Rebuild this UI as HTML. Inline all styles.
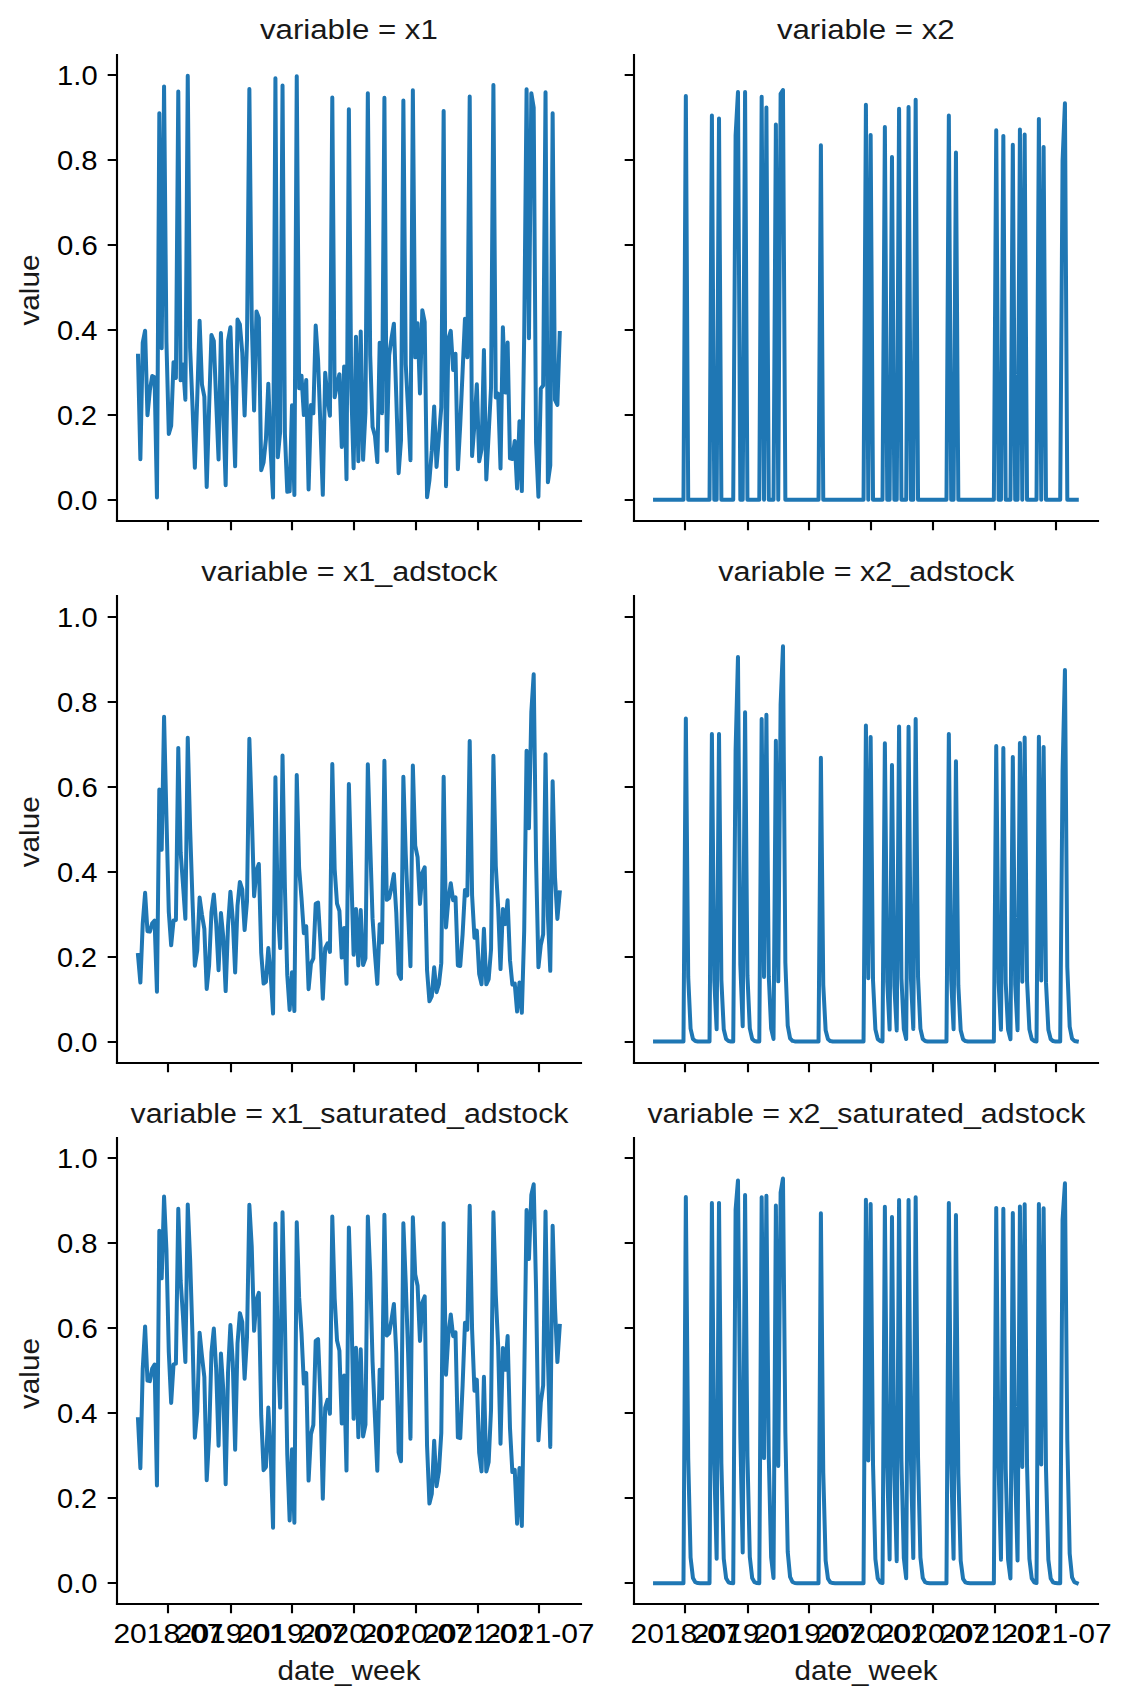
<!DOCTYPE html><html><head><meta charset="utf-8"><style>html,body{margin:0;padding:0;background:#fff;}svg{display:block;}text{font-family:"Liberation Sans",sans-serif;}</style></head><body>
<svg width="1131" height="1705" viewBox="0 0 1131 1705">
<rect width="1131" height="1705" fill="#fff"/>
<path d="M117 521L117 55" stroke="#000" stroke-width="2.13" stroke-linecap="square" fill="none"/>
<path d="M117 521L581 521" stroke="#000" stroke-width="2.13" stroke-linecap="square" fill="none"/>
<path d="M168 521v9.33M231 521v9.33M292 521v9.33M354 521v9.33M416 521v9.33M478 521v9.33M539 521v9.33M117 500h-9.33M117 415h-9.33M117 330h-9.33M117 245h-9.33M117 160h-9.33M117 75h-9.33" stroke="#000" stroke-width="2.13" fill="none"/>
<path d="M138 355.71 140.37 459.2 142.73 342.6 145.1 330.7 147.47 415.2 149.84 390.24 152.21 375.99 154.58 377.17 156.95 497.44 159.32 113.15 161.69 348.24 164.06 86.38 166.43 341.62 168.8 433.98 171.17 425.73 173.54 362.15 175.91 378.02 178.28 91.47 180.65 380.37 183.01 364.58 185.38 399.67 187.75 75.75 190.12 347.82 192.49 405.66 194.86 467.7 197.23 398.23 199.6 320.76 201.97 384.53 204.34 396.66 206.71 486.97 209.08 408.18 211.45 335.02 213.82 341.02 216.19 401.55 218.56 459.39 220.93 333.1 223.29 411.69 225.66 485.22 228.03 340.81 230.4 327.23 232.77 395.47 235.14 466.31 237.51 319.51 239.88 324.47 242.25 352.52 244.62 415.48 246.99 340.37 249.36 88.93 251.73 319.85 254.1 410.43 256.47 311.48 258.84 317.92 261.21 470.22 263.57 462.36 265.94 439 268.31 383.64 270.68 450.91 273.05 497.58 275.42 78.3 277.79 457.29 280.16 431.57 282.53 85.53 284.9 433.71 287.27 491.86 289.64 491.39 292.01 405.34 294.38 495.02 296.75 76.18 299.12 388.32 301.49 375.74 303.85 415.05 306.22 379.92 308.59 489.42 310.96 404.97 313.33 413.33 315.7 325.58 318.07 359.98 320.44 426.28 322.81 494.86 325.18 372.8 327.55 398.48 329.92 415.78 332.29 97.42 334.66 397.33 337.03 384.72 339.4 374.18 341.76 446.95 344.13 366.5 346.5 479.3 348.87 109.32 351.24 388.6 353.61 468.27 355.98 336.66 358.35 461.32 360.72 331.4 363.09 459.83 365.46 412.07 367.83 93.17 370.2 355.22 372.57 426.86 374.94 435.66 377.31 462.1 379.68 342.69 382.04 413.17 384.41 97.85 386.78 450.69 389.15 355.33 391.52 338.31 393.89 323.69 396.26 396.06 398.63 473.23 401 440.32 403.37 100.4 405.74 364.34 408.11 409.77 410.48 460.14 412.85 90.2 415.22 357.37 417.59 323.23 419.96 393.38 422.32 310.13 424.69 321.98 427.06 497.22 429.43 480.12 431.8 450.66 434.17 406.45 436.54 466.89 438.91 437.24 441.28 407.25 443.65 111.02 446.02 486.13 448.39 338.76 450.76 330.88 453.13 369.97 455.5 353.79 457.87 469.23 460.24 424.52 462.6 371.36 464.97 318.71 467.34 357.32 469.71 96.57 472.08 455.98 474.45 424.39 476.82 384.27 479.19 461.32 481.56 449.24 483.93 350.11 486.3 479.5 488.67 433.73 491.04 387.72 493.41 85.1 495.78 397.42 498.15 393.6 500.52 468.4 502.88 327.27 505.25 392.53 507.62 342.6 509.99 458.4 512.36 458.94 514.73 440.97 517.1 488.46 519.47 421.34 521.84 491.12 524.21 334.05 526.58 89.35 528.95 338.3 531.32 93.17 533.69 107.62 536.06 442.45 538.43 496.75 540.79 388.65 543.16 385.5 545.53 92.32 547.9 482.22 550.27 465.39 552.64 113.15 555.01 399.86 557.38 404.9 559.75 332.98" stroke="#1f77b4" stroke-width="4" stroke-linejoin="round" stroke-linecap="square" fill="none"/>
<text transform="translate(259.94 38.55) scale(1.1173 1)" font-size="27.960" fill="#181818">variable = x1</text>
<text transform="translate(57.01 509.82) scale(1.0299 1)" font-size="28.343">0.0</text>
<text transform="translate(56.9 424.83) scale(1.0146 1)" font-size="28.343">0.2</text>
<text transform="translate(57.01 339.85) scale(1.0295 1)" font-size="28.343">0.4</text>
<text transform="translate(57 254.87) scale(1.0362 1)" font-size="28.343">0.6</text>
<text transform="translate(56.88 169.89) scale(1.0319 1)" font-size="28.343">0.8</text>
<text transform="translate(57.1 84.9) scale(1.0280 1)" font-size="28.343">1.0</text>
<text transform="translate(39.2 325.54) rotate(-90) scale(1.0620 1)" font-size="27.960" fill="#181818">value</text>
<path d="M634 521L634 55" stroke="#000" stroke-width="2.13" stroke-linecap="square" fill="none"/>
<path d="M634 521L1098 521" stroke="#000" stroke-width="2.13" stroke-linecap="square" fill="none"/>
<path d="M685 521v9.33M748 521v9.33M809 521v9.33M871 521v9.33M933 521v9.33M995 521v9.33M1056 521v9.33M634 500h-9.33M634 415h-9.33M634 330h-9.33M634 245h-9.33M634 160h-9.33M634 75h-9.33" stroke="#000" stroke-width="2.13" fill="none"/>
<path d="M655.04 499.82 657.41 499.82 659.77 499.82 662.14 499.82 664.51 499.82 666.88 499.82 669.25 499.82 671.62 499.82 673.99 499.82 676.36 499.82 678.73 499.82 681.1 499.82 683.47 499.82 685.84 95.94 688.21 499.82 690.58 499.82 692.95 499.82 695.32 499.82 697.69 499.82 700.05 499.82 702.42 499.82 704.79 499.82 707.16 499.82 709.53 499.82 711.9 115.48 714.27 499.82 716.64 499.82 719.01 118.46 721.38 499.82 723.75 499.82 726.12 499.82 728.49 499.82 730.86 499.82 733.23 499.82 735.6 135.45 737.97 92.11 740.33 499.82 742.7 499.82 745.07 92.11 747.44 499.82 749.81 499.82 752.18 499.82 754.55 499.82 756.92 499.82 759.29 499.82 761.66 96.79 764.03 499.82 766.4 107.41 768.77 499.82 771.14 499.82 773.51 499.82 775.88 124.41 778.25 499.82 780.61 93.81 782.98 89.99 785.35 499.82 787.72 499.82 790.09 499.82 792.46 499.82 794.83 499.82 797.2 499.82 799.57 499.82 801.94 499.82 804.31 499.82 806.68 499.82 809.05 499.82 811.42 499.82 813.79 499.82 816.16 499.82 818.53 499.82 820.89 145.23 823.26 499.82 825.63 499.82 828 499.82 830.37 499.82 832.74 499.82 835.11 499.82 837.48 499.82 839.85 499.82 842.22 499.82 844.59 499.82 846.96 499.82 849.33 499.82 851.7 499.82 854.07 499.82 856.44 499.82 858.8 499.82 861.17 499.82 863.54 499.82 865.91 104.86 868.28 499.82 870.65 135.03 873.02 499.82 875.39 499.82 877.76 499.82 880.13 499.82 882.5 499.82 884.87 126.96 887.24 499.82 889.61 499.82 891.98 157.12 894.35 499.82 896.72 499.82 899.08 108.68 901.45 499.82 903.82 499.82 906.19 499.82 908.56 106.98 910.93 499.82 913.3 499.82 915.67 99.76 918.04 499.82 920.41 499.82 922.78 499.82 925.15 499.82 927.52 499.82 929.89 499.82 932.26 499.82 934.63 499.82 937 499.82 939.36 499.82 941.73 499.82 944.1 499.82 946.47 499.82 948.84 115.48 951.21 499.82 953.58 499.82 955.95 152.45 958.32 499.82 960.69 499.82 963.06 499.82 965.43 499.82 967.8 499.82 970.17 499.82 972.54 499.82 974.91 499.82 977.28 499.82 979.64 499.82 982.01 499.82 984.38 499.82 986.75 499.82 989.12 499.82 991.49 499.82 993.86 499.82 996.23 130.35 998.6 499.82 1000.97 499.82 1003.34 135.88 1005.71 499.82 1008.08 499.82 1010.45 499.82 1012.82 144.8 1015.19 499.82 1017.56 499.82 1019.92 129.5 1022.29 499.82 1024.66 134.6 1027.03 499.82 1029.4 499.82 1031.77 499.82 1034.14 499.82 1036.51 499.82 1038.88 118.88 1041.25 499.82 1043.62 146.93 1045.99 499.82 1048.36 499.82 1050.73 499.82 1053.1 499.82 1055.47 499.82 1057.83 499.82 1060.2 499.82 1062.57 160.95 1064.94 103.16 1067.31 499.82 1069.68 499.82 1072.05 499.82 1074.42 499.82 1076.79 499.82" stroke="#1f77b4" stroke-width="4" stroke-linejoin="round" stroke-linecap="square" fill="none"/>
<text transform="translate(776.91 38.55) scale(1.1162 1)" font-size="27.960" fill="#181818">variable = x2</text>
<path d="M117 1063L117 596" stroke="#000" stroke-width="2.13" stroke-linecap="square" fill="none"/>
<path d="M117 1063L581 1063" stroke="#000" stroke-width="2.13" stroke-linecap="square" fill="none"/>
<path d="M168 1063v9.33M231 1063v9.33M292 1063v9.33M354 1063v9.33M416 1063v9.33M478 1063v9.33M539 1063v9.33M117 1042h-9.33M117 957h-9.33M117 872h-9.33M117 787h-9.33M117 702h-9.33M117 617h-9.33" stroke="#000" stroke-width="2.13" fill="none"/>
<path d="M138 955.02 140.37 982.55 142.73 923.55 145.1 892.81 147.47 931.25 149.84 931.63 152.21 923.23 154.58 920.58 156.95 991.79 159.32 789.5 161.69 849.78 164.06 716.67 166.43 816.65 168.8 912.1 171.17 945.33 173.54 920.45 175.91 919.98 178.28 747.9 180.65 852.43 183.01 884.86 185.38 918.8 187.75 737.87 190.12 828.84 192.49 899.98 194.86 965.68 197.23 950.37 199.6 897.61 201.97 914.81 204.34 928.95 206.71 988.96 209.08 965.55 211.45 912.24 213.82 894.49 216.19 923.76 218.56 970.23 220.93 912.96 223.29 937.24 225.66 991.06 228.03 925.92 230.4 891.74 232.77 919.03 235.14 972.46 237.51 905.67 239.88 881.98 242.25 889.31 244.62 930.02 246.99 901.26 249.36 738.8 251.73 812.43 254.1 896.24 256.47 870.42 258.84 863.95 261.21 952.79 263.57 983.59 265.94 981.91 268.31 948.09 270.68 974.87 273.05 1013.56 275.42 777.35 277.79 910.4 280.16 948.12 282.53 755.45 284.9 887.44 287.27 975.17 289.64 1009.95 292.01 972.18 294.38 1011.09 296.75 775.02 299.12 868.02 301.49 897.8 303.85 933.18 306.22 926.22 308.59 989.17 310.96 963.68 313.33 958.47 315.7 903.87 318.07 902.56 320.44 941.85 322.81 998.72 325.18 948.2 327.55 943.37 329.92 951.85 332.29 764.1 334.66 869.1 337.03 903.52 339.4 910.93 341.76 957.56 344.13 927.95 346.5 983.83 348.87 784.04 351.24 871.92 353.61 954.8 355.98 908.93 358.35 965.43 360.72 910 363.09 964.97 365.46 958.24 367.83 764.23 370.2 843.84 372.57 918.67 374.94 953.94 377.31 983.87 379.68 924.2 382.04 942.6 384.41 760.66 386.78 899.85 389.15 898.17 391.52 887.25 393.89 874.11 396.26 912.29 398.63 973.94 401 978.81 403.37 776.8 405.74 854.33 408.11 912.65 410.48 966.23 412.85 765.55 415.22 845.66 417.59 857.18 419.96 903.91 422.32 872.76 424.69 867.31 427.06 970.33 429.43 1001.24 431.8 996.07 434.17 967.35 436.54 992.17 438.91 984.26 441.28 963.13 443.65 776.81 446.02 927.43 448.39 899.21 450.76 883.2 453.13 900.28 455.5 897.38 457.87 965.53 460.24 965.97 462.6 934.34 464.97 889.93 467.34 895.4 469.71 741.05 472.08 895.07 474.45 937.73 476.82 930.65 479.19 974.1 481.56 984.25 483.93 928.81 486.3 984.31 488.67 979.13 491.04 949.29 493.41 755.68 495.78 865.76 498.15 907.47 500.52 969.07 502.88 909.01 505.25 924.13 507.62 900.21 509.99 960.18 512.36 984.62 514.73 983.48 517.1 1011.54 519.47 982.43 521.84 1012.74 524.21 930.54 526.58 750.76 528.95 828.27 531.32 712.1 533.69 674.32 536.06 860.21 538.43 967.2 540.79 945.07 543.16 934.38 545.53 754.18 547.9 916.1 550.27 970.86 552.64 781.27 555.01 877.44 557.38 918.91 559.75 892.37" stroke="#1f77b4" stroke-width="4" stroke-linejoin="round" stroke-linecap="square" fill="none"/>
<text transform="translate(201.31 580.97) scale(1.0920 1)" font-size="27.960" fill="#181818">variable = x1_adstock</text>
<text transform="translate(57.01 1051.54) scale(1.0299 1)" font-size="28.343">0.0</text>
<text transform="translate(56.9 966.56) scale(1.0146 1)" font-size="28.343">0.2</text>
<text transform="translate(57.01 881.57) scale(1.0295 1)" font-size="28.343">0.4</text>
<text transform="translate(57 796.59) scale(1.0362 1)" font-size="28.343">0.6</text>
<text transform="translate(56.88 711.61) scale(1.0319 1)" font-size="28.343">0.8</text>
<text transform="translate(57.1 626.63) scale(1.0280 1)" font-size="28.343">1.0</text>
<text transform="translate(39.2 867.26) rotate(-90) scale(1.0620 1)" font-size="27.960" fill="#181818">value</text>
<path d="M634 1063L634 596" stroke="#000" stroke-width="2.13" stroke-linecap="square" fill="none"/>
<path d="M634 1063L1098 1063" stroke="#000" stroke-width="2.13" stroke-linecap="square" fill="none"/>
<path d="M685 1063v9.33M748 1063v9.33M809 1063v9.33M871 1063v9.33M933 1063v9.33M995 1063v9.33M1056 1063v9.33M634 1042h-9.33M634 957h-9.33M634 872h-9.33M634 787h-9.33M634 702h-9.33M634 617h-9.33" stroke="#000" stroke-width="2.13" fill="none"/>
<path d="M655.04 1041.54 657.41 1041.54 659.77 1041.54 662.14 1041.54 664.51 1041.54 666.88 1041.54 669.25 1041.54 671.62 1041.54 673.99 1041.54 676.36 1041.54 678.73 1041.54 681.1 1041.54 683.47 1041.54 685.84 718.44 688.21 976.92 690.58 1028.62 692.95 1038.96 695.32 1041.02 697.69 1041.44 700.05 1041.52 702.42 1041.54 704.79 1041.54 707.16 1041.54 709.53 1041.54 711.9 734.07 714.27 980.05 716.64 1029.24 719.01 733.99 721.38 980.03 723.75 1029.24 726.12 1039.08 728.49 1041.05 730.86 1041.44 733.23 1041.52 735.6 750.04 737.97 657.08 740.33 964.65 742.7 1026.16 745.07 712.3 747.44 975.69 749.81 1028.37 752.18 1038.91 754.55 1041.01 756.92 1041.44 759.29 1041.52 761.66 719.11 764.03 977.06 766.4 714.72 768.77 976.18 771.14 1028.47 773.51 1038.93 775.88 740.69 778.25 981.37 780.61 704.7 782.98 646.31 785.35 962.49 787.72 1025.73 790.09 1038.38 792.46 1040.91 794.83 1041.41 797.2 1041.52 799.57 1041.54 801.94 1041.54 804.31 1041.54 806.68 1041.54 809.05 1041.54 811.42 1041.54 813.79 1041.54 816.16 1041.54 818.53 1041.54 820.89 757.87 823.26 984.81 825.63 1030.19 828 1039.27 830.37 1041.09 832.74 1041.45 835.11 1041.52 837.48 1041.54 839.85 1041.54 842.22 1041.54 844.59 1041.54 846.96 1041.54 849.33 1041.54 851.7 1041.54 854.07 1041.54 856.44 1041.54 858.8 1041.54 861.17 1041.54 863.54 1041.54 865.91 725.57 868.28 978.35 870.65 737.07 873.02 980.65 875.39 1029.36 877.76 1039.1 880.13 1041.05 882.5 1041.44 884.87 743.23 887.24 981.88 889.61 1029.61 891.98 765 894.35 986.23 896.72 1030.48 899.08 726.42 901.45 978.52 903.82 1028.94 906.19 1039.02 908.56 726.77 910.93 978.59 913.3 1028.95 915.67 718.98 918.04 977.03 920.41 1028.64 922.78 1038.96 925.15 1041.02 927.52 1041.44 929.89 1041.52 932.26 1041.54 934.63 1041.54 937 1041.54 939.36 1041.54 941.73 1041.54 944.1 1041.54 946.47 1041.54 948.84 734.07 951.21 980.05 953.58 1029.24 955.95 761.19 958.32 985.47 960.69 1030.33 963.06 1039.3 965.43 1041.09 967.8 1041.45 970.17 1041.52 972.54 1041.54 974.91 1041.54 977.28 1041.54 979.64 1041.54 982.01 1041.54 984.38 1041.54 986.75 1041.54 989.12 1041.54 991.49 1041.54 993.86 1041.54 996.23 745.97 998.6 982.43 1000.97 1029.72 1003.34 748.02 1005.71 982.84 1008.08 1029.8 1010.45 1039.19 1012.82 757.06 1015.19 984.64 1017.56 1030.16 1019.92 743.01 1022.29 981.84 1024.66 737.43 1027.03 980.72 1029.4 1029.38 1031.77 1039.11 1034.14 1041.05 1036.51 1041.44 1038.88 736.77 1041.25 980.59 1043.62 747.04 1045.99 982.64 1048.36 1029.76 1050.73 1039.18 1053.1 1041.07 1055.47 1041.45 1057.83 1041.52 1060.2 1041.54 1062.57 770.44 1064.94 669.99 1067.31 967.23 1069.68 1026.68 1072.05 1038.57 1074.42 1040.95 1076.79 1041.42" stroke="#1f77b4" stroke-width="4" stroke-linejoin="round" stroke-linecap="square" fill="none"/>
<text transform="translate(718.29 580.97) scale(1.0920 1)" font-size="27.960" fill="#181818">variable = x2_adstock</text>
<path d="M117 1604L117 1138" stroke="#000" stroke-width="2.13" stroke-linecap="square" fill="none"/>
<path d="M117 1604L581 1604" stroke="#000" stroke-width="2.13" stroke-linecap="square" fill="none"/>
<path d="M168 1604v9.33M231 1604v9.33M292 1604v9.33M354 1604v9.33M416 1604v9.33M478 1604v9.33M539 1604v9.33M117 1583h-9.33M117 1498h-9.33M117 1413h-9.33M117 1328h-9.33M117 1243h-9.33M117 1158h-9.33" stroke="#000" stroke-width="2.13" fill="none"/>
<path d="M138 1419.19 140.37 1468.22 142.73 1368.88 145.1 1326.44 147.47 1380.56 149.84 1381.16 152.21 1368.41 154.58 1364.49 156.95 1485.54 159.32 1230.83 161.69 1278.36 164.06 1196.48 166.43 1249.66 168.8 1352.27 171.17 1403 173.54 1364.3 175.91 1363.61 178.28 1208.74 180.65 1280.96 183.01 1316.58 185.38 1361.88 187.75 1204.44 190.12 1259.45 192.49 1335.74 194.86 1437.68 197.23 1411.34 199.6 1332.63 201.97 1356.12 204.34 1377.04 206.71 1480.19 209.08 1437.45 211.45 1352.47 213.82 1328.59 216.19 1369.2 218.56 1445.76 220.93 1353.5 223.29 1389.95 225.66 1484.17 228.03 1372.44 230.4 1325.09 232.77 1362.22 235.14 1449.78 237.51 1343.37 239.88 1313.12 242.25 1322.05 244.62 1378.68 246.99 1337.44 249.36 1204.82 251.73 1246.48 254.1 1330.85 256.47 1299.82 258.84 1292.78 261.21 1415.42 263.57 1470.15 265.94 1467.03 268.31 1407.56 270.68 1454.14 273.05 1527.63 275.42 1223.59 277.79 1349.9 280.16 1407.61 282.53 1212.21 284.9 1319.73 287.27 1454.67 289.64 1520.54 292.01 1449.27 294.38 1522.77 296.75 1222.29 299.12 1297.17 301.49 1332.87 303.85 1383.56 306.22 1372.88 308.59 1480.59 310.96 1434.16 313.33 1425.11 315.7 1340.93 318.07 1339.17 320.44 1397.33 322.81 1498.76 325.18 1407.73 327.55 1399.8 329.92 1413.83 332.29 1216.47 334.66 1298.36 337.03 1340.46 339.4 1350.64 341.76 1423.54 344.13 1375.52 346.5 1470.6 348.87 1227.49 351.24 1301.5 353.61 1418.81 355.98 1347.85 358.35 1437.24 360.72 1349.34 363.09 1436.42 365.46 1424.7 367.83 1216.53 370.2 1272.72 372.57 1361.69 374.94 1417.36 377.31 1470.68 379.68 1369.86 382.04 1398.55 384.41 1214.74 386.78 1335.56 389.15 1333.36 391.52 1319.5 393.89 1303.96 396.26 1352.55 398.63 1452.45 401 1461.33 403.37 1223.28 405.74 1282.84 408.11 1353.05 410.48 1438.65 412.85 1217.21 415.22 1274.42 417.59 1285.72 419.96 1340.99 422.32 1302.44 424.69 1296.4 427.06 1445.94 429.43 1503.62 431.8 1493.69 434.17 1440.64 436.54 1486.26 438.91 1471.4 441.28 1433.19 443.65 1223.29 446.02 1374.73 448.39 1334.72 450.76 1314.58 453.13 1336.14 455.5 1332.32 457.87 1437.42 460.24 1438.19 462.6 1385.38 464.97 1322.82 467.34 1329.76 469.71 1205.76 472.08 1329.34 474.45 1390.72 476.82 1379.65 479.19 1452.74 481.56 1471.38 483.93 1376.82 486.3 1471.49 488.67 1461.91 491.04 1409.55 493.41 1212.32 495.78 1294.72 498.15 1345.83 500.52 1443.69 502.88 1347.96 505.25 1369.74 507.62 1336.03 509.99 1428.06 512.36 1472.07 514.73 1469.95 517.1 1523.65 519.47 1468.01 521.84 1526.02 524.21 1379.48 526.58 1210.03 528.95 1258.97 531.32 1194.94 533.69 1184.32 536.06 1288.85 538.43 1440.37 540.79 1402.57 543.16 1385.45 545.53 1211.61 547.9 1357.97 550.27 1446.89 552.64 1225.85 555.01 1307.78 557.38 1362.05 559.75 1325.88" stroke="#1f77b4" stroke-width="4" stroke-linejoin="round" stroke-linecap="square" fill="none"/>
<text transform="translate(130.44 1122.7) scale(1.0864 1)" font-size="27.960" fill="#181818">variable = x1_saturated_adstock</text>
<text transform="translate(57.01 1593.26) scale(1.0299 1)" font-size="28.343">0.0</text>
<text transform="translate(56.9 1508.28) scale(1.0146 1)" font-size="28.343">0.2</text>
<text transform="translate(57.01 1423.3) scale(1.0295 1)" font-size="28.343">0.4</text>
<text transform="translate(57 1338.32) scale(1.0362 1)" font-size="28.343">0.6</text>
<text transform="translate(56.88 1253.33) scale(1.0319 1)" font-size="28.343">0.8</text>
<text transform="translate(57.1 1168.35) scale(1.0280 1)" font-size="28.343">1.0</text>
<text transform="translate(113.4 1643.13) scale(1.0595 1)" font-size="28.343">2018-07</text>
<text transform="translate(175.75 1643.13) scale(1.0573 1)" font-size="28.343">2019-01</text>
<text transform="translate(237.01 1643.13) scale(1.0595 1)" font-size="28.343">2019-07</text>
<text transform="translate(299.24 1643.13) scale(1.0573 1)" font-size="28.343">2020-01</text>
<text transform="translate(360.84 1643.13) scale(1.0595 1)" font-size="28.343">2020-07</text>
<text transform="translate(423.12 1643.13) scale(1.0573 1)" font-size="28.343">2021-01</text>
<text transform="translate(484.38 1643.13) scale(1.0595 1)" font-size="28.343">2021-07</text>
<text transform="translate(277.47 1679.8) scale(1.0587 1)" font-size="27.960" fill="#181818">date_week</text>
<text transform="translate(39.2 1408.99) rotate(-90) scale(1.0620 1)" font-size="27.960" fill="#181818">value</text>
<path d="M634 1604L634 1138" stroke="#000" stroke-width="2.13" stroke-linecap="square" fill="none"/>
<path d="M634 1604L1098 1604" stroke="#000" stroke-width="2.13" stroke-linecap="square" fill="none"/>
<path d="M685 1604v9.33M748 1604v9.33M809 1604v9.33M871 1604v9.33M933 1604v9.33M995 1604v9.33M1056 1604v9.33M634 1583h-9.33M634 1498h-9.33M634 1413h-9.33M634 1328h-9.33M634 1243h-9.33M634 1158h-9.33" stroke="#000" stroke-width="2.13" fill="none"/>
<path d="M655.04 1583.26 657.41 1583.26 659.77 1583.26 662.14 1583.26 664.51 1583.26 666.88 1583.26 669.25 1583.26 671.62 1583.26 673.99 1583.26 676.36 1583.26 678.73 1583.26 681.1 1583.26 683.47 1583.26 685.84 1197.09 688.21 1457.86 690.58 1557.45 692.95 1578.09 695.32 1582.23 697.69 1583.06 700.05 1583.22 702.42 1583.26 704.79 1583.26 707.16 1583.26 709.53 1583.26 711.9 1202.91 714.27 1463.6 716.64 1558.69 719.01 1202.88 721.38 1463.57 723.75 1558.69 726.12 1578.34 728.49 1582.28 730.86 1583.07 733.23 1583.22 735.6 1209.7 737.97 1180.53 740.33 1435.86 742.7 1552.56 745.07 1195.01 747.44 1455.63 749.81 1556.96 752.18 1578 754.55 1582.21 756.92 1583.05 759.29 1583.22 761.66 1197.32 764.03 1458.11 766.4 1195.81 768.77 1456.51 771.14 1557.15 773.51 1578.03 775.88 1205.61 778.25 1466.04 780.61 1192.58 782.98 1178.45 785.35 1432.08 787.72 1551.7 790.09 1576.94 792.46 1582 794.83 1583.01 797.2 1583.21 799.57 1583.26 801.94 1583.26 804.31 1583.26 806.68 1583.26 809.05 1583.26 811.42 1583.26 813.79 1583.26 816.16 1583.26 818.53 1583.26 820.89 1213.37 823.26 1472.42 825.63 1560.59 828 1578.72 830.37 1582.36 832.74 1583.08 835.11 1583.23 837.48 1583.26 839.85 1583.26 842.22 1583.26 844.59 1583.26 846.96 1583.26 849.33 1583.26 851.7 1583.26 854.07 1583.26 856.44 1583.26 858.8 1583.26 861.17 1583.26 863.54 1583.26 865.91 1199.65 868.28 1460.48 870.65 1204.11 873.02 1464.7 875.39 1558.93 877.76 1578.39 880.13 1582.29 882.5 1583.07 884.87 1206.69 887.24 1466.98 889.61 1559.43 891.98 1216.93 894.35 1475.08 896.72 1561.16 899.08 1199.96 901.45 1460.79 903.82 1558.08 906.19 1578.22 908.56 1200.09 910.93 1460.92 913.3 1558.11 915.67 1197.27 918.04 1458.06 920.41 1557.49 922.78 1578.1 925.15 1582.23 927.52 1583.06 929.89 1583.22 932.26 1583.26 934.63 1583.26 937 1583.26 939.36 1583.26 941.73 1583.26 944.1 1583.26 946.47 1583.26 948.84 1202.91 951.21 1463.6 953.58 1558.69 955.95 1215 958.32 1473.66 960.69 1560.86 963.06 1578.78 965.43 1582.37 967.8 1583.09 970.17 1583.23 972.54 1583.26 974.91 1583.26 977.28 1583.26 979.64 1583.26 982.01 1583.26 984.38 1583.26 986.75 1583.26 989.12 1583.26 991.49 1583.26 993.86 1583.26 996.23 1207.88 998.6 1467.99 1000.97 1559.64 1003.34 1208.79 1005.71 1468.76 1008.08 1559.81 1010.45 1578.57 1012.82 1212.98 1015.19 1472.12 1017.56 1560.53 1019.92 1206.6 1022.29 1466.9 1024.66 1204.26 1027.03 1464.84 1029.4 1558.96 1031.77 1578.4 1034.14 1582.29 1036.51 1583.07 1038.88 1203.99 1041.25 1464.59 1043.62 1208.35 1045.99 1468.39 1048.36 1559.73 1050.73 1578.55 1053.1 1582.32 1055.47 1583.08 1057.83 1583.23 1060.2 1583.26 1062.57 1219.79 1064.94 1183.32 1067.31 1440.42 1069.68 1553.59 1072.05 1577.32 1074.42 1582.07 1076.79 1583.03" stroke="#1f77b4" stroke-width="4" stroke-linejoin="round" stroke-linecap="square" fill="none"/>
<text transform="translate(647.42 1122.7) scale(1.0864 1)" font-size="27.960" fill="#181818">variable = x2_saturated_adstock</text>
<text transform="translate(630.44 1643.13) scale(1.0595 1)" font-size="28.343">2018-07</text>
<text transform="translate(692.79 1643.13) scale(1.0573 1)" font-size="28.343">2019-01</text>
<text transform="translate(754.05 1643.13) scale(1.0595 1)" font-size="28.343">2019-07</text>
<text transform="translate(816.28 1643.13) scale(1.0573 1)" font-size="28.343">2020-01</text>
<text transform="translate(877.88 1643.13) scale(1.0595 1)" font-size="28.343">2020-07</text>
<text transform="translate(940.16 1643.13) scale(1.0573 1)" font-size="28.343">2021-01</text>
<text transform="translate(1001.42 1643.13) scale(1.0595 1)" font-size="28.343">2021-07</text>
<text transform="translate(794.51 1679.8) scale(1.0587 1)" font-size="27.960" fill="#181818">date_week</text>
</svg></body></html>
